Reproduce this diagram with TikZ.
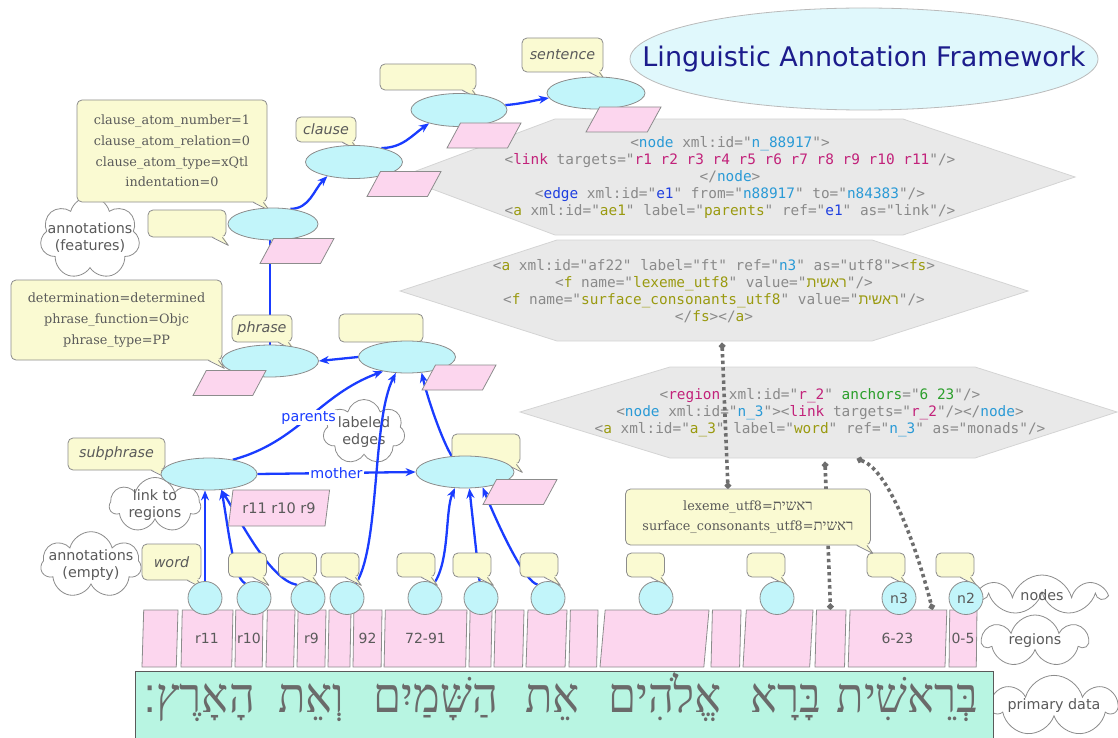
\documentclass[tikz,border=0pt]{standalone}
\usepackage{graphicx}
\usepackage{fontspec}
\setmainfont{DejaVu Sans}
\setmonofont{DejaVu Sans Mono}
\newfontfamily\featfont{DejaVu Serif}
\newfontfamily\hebserif[Script=Hebrew]{Liberation Serif}
\newfontfamily\hebsans[Script=Hebrew]{Liberation Sans}
\newfontfamily\hebdeja[Script=Hebrew]{DejaVu Sans}
\TeXXeTstate=1
\usetikzlibrary{calc,arrows.meta,shapes.geometric,shapes.symbols}
\pgfdeclarelayer{bg}
\pgfdeclarelayer{lines}
\pgfsetlayers{bg,lines,main}
\definecolor{nodecyan}{HTML}{C2F5FA}
\definecolor{bubfill}{HTML}{FAFAD2}
\definecolor{pinkfill}{HTML}{FCD6EE}
\definecolor{hexfill}{HTML}{E9E9E9}
\definecolor{hexline}{HTML}{D4D4D4}
\definecolor{linegray}{HTML}{8C8C8C}
\definecolor{txtgray}{HTML}{5A5A5A}
\definecolor{hebgray}{HTML}{6A6A6A}
\definecolor{edgeblue}{HTML}{1A3CFF}
\definecolor{dotgray}{HTML}{6E6E6E}
\definecolor{titlefill}{HTML}{E0F8FC}
\definecolor{titletext}{HTML}{1C1C8C}
\definecolor{primfill}{HTML}{B8F5E2}
\definecolor{xmlgray}{HTML}{8A8A8A}
\definecolor{xmlcyan}{HTML}{2A9AD6}
\definecolor{xmlmag}{HTML}{C2227A}
\definecolor{xmlolive}{HTML}{9A9A10}
\definecolor{xmlblue}{HTML}{1F3FE0}
\definecolor{xmlgreen}{HTML}{2A9E2A}
\newcommand{\fsz}[2]{\fontsize{#1}{#2}\selectfont}
\newcommand{\xmlC}[1]{\textcolor{xmlcyan}{#1}}
\newcommand{\xmlM}[1]{\textcolor{xmlmag}{#1}}
\newcommand{\xmlO}[1]{\textcolor{xmlolive}{#1}}
\newcommand{\xmlB}[1]{\textcolor{xmlblue}{#1}}
\newcommand{\xmlG}[1]{\textcolor{xmlgreen}{#1}}
\tikzset{
  ann/.style={ellipse, draw=linegray, fill=nodecyan, line width=0.8pt, minimum width=97pt, minimum height=32pt, inner sep=0pt},
  word/.style={ellipse, draw=linegray, fill=nodecyan, line width=0.8pt, minimum width=34pt, minimum height=33pt, inner sep=0pt, text=txtgray, font=\fsz{14}{16}},
  bubble/.style={rectangle, rounded corners=5pt, draw=linegray, fill=bubfill, line width=0.8pt, inner sep=0pt, text=txtgray},
  bublab/.style={bubble, font=\fsz{14.3}{17}\itshape},
  feat/.style={bubble, align=center, font=\featfont\fsz{12.8}{20.7}},
  regionlink/.style={trapezium, trapezium left angle=74, trapezium right angle=106, trapezium stretches, draw=linegray, fill=pinkfill, line width=0.8pt, minimum width=74pt, minimum height=25pt, inner sep=1pt, text=txtgray, font=\fsz{14.5}{17}},
  regbox/.style={trapezium, trapezium left angle=87, trapezium right angle=93, trapezium stretches, draw=linegray, fill=pinkfill, line width=0.8pt, minimum height=57pt, inner sep=1pt, text=txtgray, font=\fsz{14}{16}},
  note/.style={cloud, cloud puffs=7, cloud ignores aspect, draw=linegray, fill=white, line width=0.8pt, inner sep=0pt, align=center, text=txtgray, font=\fsz{14.3}{17}},
  tightnote/.style={note, inner xsep=-8pt, inner ysep=-2pt},
  hexbox/.style={draw=hexline, fill=hexfill, line width=0.8pt},
  xml/.style={align=center, text=xmlgray, font=\ttfamily\fsz{14.4}{17}},
  parent/.style={draw=edgeblue, line width=2.3pt, -{Stealth[length=10pt,width=8pt]}},
  dotlink/.style={draw=dotgray, line width=3.6pt, dash pattern=on 3.4pt off 3.2pt, {Circle[length=6pt]}-{Circle[length=6pt]}},
  elab/.style={text=edgeblue, fill=white, inner sep=1pt, font=\fsz{14.3}{17}},
  hebword/.style={text=hebgray, inner sep=0pt, font=\hebserif\fsz{45}{50}}
}
\newcommand{\TailAt}[1]{%
  \fill[bubfill] ($(#1.south east)+(-14,-1.2)$) -- ($(#1.south east)+(-3,-1.2)$) -- ($(#1.south east)+(2,8)$) -- cycle;
  \draw[linegray, line width=0.8pt, line join=round] ($(#1.south east)+(-14,0)$) -- ($(#1.south east)+(2,8)$) -- ($(#1.south east)+(-4,0)$);
}

\begin{document}
\begin{tikzpicture}[x=1pt,y=-1pt]
  \useasboundingbox (0,0) rectangle (1118,738);

  \draw[draw=linegray!60, fill=titlefill, line width=0.8pt] (864,59) ellipse [x radius=234, y radius=51];
  \node[text=titletext, font=\fsz{27}{30}] (laf) at (864,59) {Linguistic Annotation Framework};

  \begin{pgfonlayer}{bg}
    \draw[hexbox] (400,177) -- (555,119) -- (903,119) -- (1075,177) -- (903,235) -- (555,235) -- cycle;
    \draw[hexbox] (400,291) -- (557,240) -- (872,240) -- (1028,291) -- (872,341) -- (557,341) -- cycle;
    \draw[hexbox] (520,412) -- (670,367) -- (975,367) -- (1117,412) -- (975,458) -- (670,458) -- cycle;
    \node[xml] (xmlEdge) at (730,177) {<\xmlC{node} xml:id="\xmlC{n\_88917}">\\
      <\xmlM{link} targets="\xmlM{r1 r2 r3 r4 r5 r6 r7 r8 r9 r10 r11}"/>\\
      </\xmlC{node}>\\
      <\xmlB{edge} xml:id="\xmlB{e1}" from="\xmlC{n88917}" to="\xmlC{n84383}"/>\\
      <\xmlO{a} xml:id="\xmlO{ae1}" label="\xmlO{parents}" ref="\xmlB{e1}" as="link"/>};
    \node[xml] (xmlFeat) at (714,291) {<\xmlO{a} xml:id="af22" label="ft" ref="\xmlC{n3}" as="utf8"><\xmlO{fs}>\\
      <\xmlO{f} name="\xmlO{lexeme\_utf8}" value="\xmlO{\hebsans\beginR ראשית\endR}"/>\\
      <\xmlO{f} name="\xmlO{surface\_consonants\_utf8}" value="\xmlO{\hebsans\beginR ראשית\endR}"/>\\
      </\xmlO{fs}></\xmlO{a}>};
    \node[xml] (xmlRegion) at (820,413) {<\xmlM{region} xml:id="\xmlM{r\_2}" \xmlG{anchors}="\xmlG{6 23}"/>\\
      <\xmlC{node} xml:id="\xmlC{n\_3}"><\xmlM{link} targets="\xmlM{r\_2}"/></\xmlC{node}>\\
      <\xmlO{a} xml:id="\xmlO{a\_3}" label="\xmlO{word}" ref="\xmlC{n\_3}" as="monads"/>};

    \node[tightnote, minimum width=91pt, minimum height=83pt] (featCloud) at (90,238) {annotations\\(features)};
    \node[tightnote, minimum width=91pt, minimum height=55pt] (linkCloud) at (155,505) {link to\\regions};
    \node[tightnote, minimum width=96pt, minimum height=55pt] (emptyCloud) at (91,565) {annotations\\(empty)};
    \node[tightnote, minimum width=82pt, minimum height=65pt] (edgeCloud) at (364,432) {labeled\\edges};
    \node[note, minimum width=121pt, minimum height=40pt] (nodesCloud) at (1042,595) {nodes};
    \node[note, minimum width=105pt, minimum height=52pt] (regionsCloud) at (1035,641) {regions};
    \node[note, minimum width=118pt, minimum height=53pt] (primaryCloud) at (1054,706) {primary data};
  \end{pgfonlayer}

  \node[draw=txtgray, line width=1pt, fill=primfill, minimum width=858pt, minimum height=72pt, inner sep=0pt, anchor=north west] (primary) at (135,671) {};
  \foreach \x/\w [count=\i] in {907.5/בְּרֵאשִׁית, 786/בָּרָא, 665/אֱלֹהִים, 552.5/אֵת, 436/הַשָּׁמַיִם, 311/וְאֵת, 199/הָאָרֶץ{\hebdeja ׃}}
    \node[hebword, anchor=base] (verse\i) at (\x,712) {\scalebox{1}[1.08]{\beginR\w\endR}};

  \foreach \lft/\rgt/\lab [count=\i] in {142/178/{}, 181/233/r11, 235/263/r10, 266/295/{}, 297/326/r9, 328/351/{}, 353/382/92, 384/467/72-91, 469/492/{}, 494/524/{}, 526/567/{}, 569/598/{}, 600/709/{}, 711/741/{}, 743/813/{}, 815/846/{}, 848/947/6-23, 949/977/0-5}
    \node[regbox, minimum width={(\rgt-\lft)*1pt}] (reg\i) at ({(\lft+\rgt)/2},638.5) {\lab};

  \node[bublab, minimum width=81pt, minimum height=34pt] (sentLab) at (562.5,55) {sentence};
  \TailAt{sentLab}
  \node[bubble, minimum width=96pt, minimum height=26pt] (sentatomBub) at (428,77) {};
  \TailAt{sentatomBub}
  \node[bublab, minimum width=60pt, minimum height=25pt] (clauseLab) at (326,129.5) {clause};
  \TailAt{clauseLab}
  \node[feat, minimum width=190pt, minimum height=102pt] (clauseFeat) at (172,151) {clause\_atom\_number=1\\clause\_atom\_relation=0\\clause\_atom\_type=xQtl\\indentation=0};
  \TailAt{clauseFeat}
  \node[bubble, minimum width=78pt, minimum height=27pt] (clauseatomBub) at (187,223.5) {};
  \TailAt{clauseatomBub}
  \node[feat, minimum width=211pt, minimum height=80pt] (phraseFeat) at (116.5,320) {determination=determined\\phrase\_function=Objc\\phrase\_type=PP};
  \TailAt{phraseFeat}
  \node[bublab, minimum width=60pt, minimum height=27pt] (phraseLab) at (262,328.5) {phrase};
  \TailAt{phraseLab}
  \node[bubble, minimum width=84pt, minimum height=28pt] (phraseatomBub) at (381,328) {};
  \TailAt{phraseatomBub}
  \node[bublab, minimum width=97pt, minimum height=32pt] (subphraseLab) at (116.5,454) {subphrase};
  \TailAt{subphraseLab}
  \node[bubble, minimum width=68pt, minimum height=30pt] (subphraseBub) at (486,449) {};
  \TailAt{subphraseBub}
  \node[bublab, minimum width=59pt, minimum height=36pt] (wordLab) at (171.5,562) {word};
  \TailAt{wordLab}
  \foreach \x [count=\i] in {247.5,297.5,340,416,472,539,645.5,766,886,955} {
    \node[bubble, minimum width=38pt, minimum height=24pt] (wb\i) at (\x,565) {};
    \TailAt{wb\i}
  }
  \node[feat, minimum width=245pt, minimum height=56pt] (lexeme) at (748,517) {lexeme\_utf8={\hebserif\fsz{15}{20.7}\beginR ראשית\endR}\\surface\_consonants\_utf8={\hebserif\fsz{15}{20.7}\beginR ראשית\endR}};
  \TailAt{lexeme}

  \node[ann, minimum width=98pt] (sent) at (596,93) {};
  \node[ann, minimum width=96pt, minimum height=33pt] (sentatom) at (459,110) {};
  \node[ann, minimum height=33pt] (clause) at (354,162) {};
  \node[ann, minimum width=90pt] (clauseatom) at (273,224) {};
  \node[ann] (phrase) at (270,361) {};
  \node[ann] (phraseatom) at (407,357) {};
  \node[ann, minimum width=96pt] (subphraseA) at (209,474) {};
  \node[ann, minimum width=98pt] (subphraseB) at (465,472) {};
  \foreach \x/\lab [count=\i] in {205/{},254/{},308/{},347/{},425/{},481/{},548/{},656/{},777/{},899/n3,966/n2}
    \node[word] (w\i) at (\x,598) {\lab};

  \node[regionlink, minimum width=75pt] (sentLink) at (623.5,119.5) {};
  \node[regionlink] (sentatomLink) at (484,135.5) {};
  \node[regionlink] (clauseLink) at (404,184) {};
  \node[regionlink] (clauseatomLink) at (297,251) {};
  \node[regionlink, minimum width=73pt] (phraseLink) at (229.5,383) {};
  \node[regionlink] (phraseatomLink) at (459,377.5) {};
  \node[regionlink, minimum width=102pt, minimum height=36pt] (subphraseALink) at (279,508) {r11 r10 r9};
  \node[regionlink] (subphraseBLink) at (520,492) {};

  \coordinate (featFoot) at (722,343);
  \coordinate (regionFootA) at (825,462);
  \coordinate (regionFootB) at (857,459);

  \begin{pgfonlayer}{lines}
    \draw[parent] (clauseatom.41) to[out=0,in=225] (clause.208);
    \draw[parent] (clause.27) to[out=0,in=215] (sentatom.204);
    \draw[parent] (sentatom.6) to[out=5,in=190] (sent.186);
    \draw[edgeblue, line width=2.3pt] (phrase.north) -- (phrase.north |- clauseatom.south);
    \draw[parent] (phraseatom.west) -- (phrase.east);
    \draw[parent] (subphraseA.31) to[out=15,in=200] node[elab] {parents} (phraseatom.211);
    \draw[parent] (subphraseA.east) -- node[elab] {mother} (subphraseB.west);
    \draw[parent] (subphraseB.130) .. controls (442,440) and (428,400) .. (phraseatom.-47);
    \draw[parent] (w1.north) -- (w1.north |- subphraseA.south);
    \draw[parent] (w2.121) .. controls (233,578) and (228,525) .. (subphraseA.-52);
    \draw[parent] (w3.130) .. controls (270,580) and (240,520) .. (subphraseA.-52);
    \draw[parent] (w4.58) .. controls (380,545) and (372,420) .. (phraseatom.-125);
    \draw[parent] (w5.58) .. controls (450,560) and (445,510) .. (subphraseB.-122);
    \draw[parent] (w6.95) -- (subphraseB.-75);
    \draw[parent] (w7.128) .. controls (525,582) and (500,530) .. (subphraseB.-41);

    \draw[dotlink] (featFoot) -- ($(lexeme.north)+(-20,0)$);
    \draw[dotlink] (regionFootA) -- (reg16.north);
    \draw[dotlink] (regionFootB) .. controls (885,468) and (912,530) .. ($(reg17.north)+(35,0)$);
  \end{pgfonlayer}
\end{tikzpicture}
\end{document}
